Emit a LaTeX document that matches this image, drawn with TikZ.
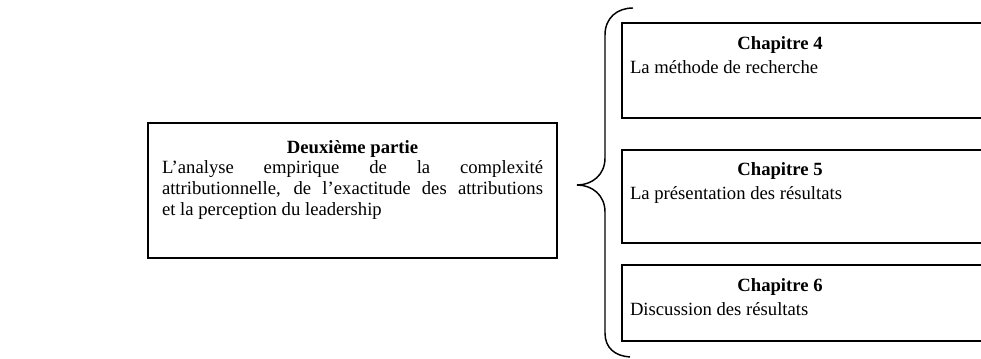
\documentclass[tikz,border=0pt]{standalone}
\usepackage{fontspec}
\setmainfont{Liberation Serif}
\usetikzlibrary{positioning}
\tikzstyle{partbox} = [rectangle, draw, line width=1.3pt, anchor=north west, inner xsep=10.5pt, inner ysep=13pt, outer sep=0pt, font=\fontsize{14}{15.5}\selectfont]
\tikzstyle{chapbox} = [rectangle, draw, line width=1.3pt, inner xsep=6pt, inner ysep=10pt, outer sep=0pt, font=\fontsize{14}{18}\selectfont]
\tikzstyle{brace} = [line width=1.1pt]
\newcommand{\chaptext}[3]{\parbox[t][#1][t]{225pt}{{\centering\textbf{#2}\par}#3}\hspace*{60pt}}

\begin{document}
\begin{tikzpicture}[x=0.75pt, y=-0.75pt]
\useasboundingbox (0,0) rectangle (981,359);
\clip (0,0) rectangle (981,359);
% Part box
\node (part) [partbox] at (148,123) {\parbox[t][75pt][t]{285.75pt}{{\centering\textbf{Deuxième partie}\par}L’analyse empirique de la complexité\linebreak attributionnelle, de l’exactitude des attributions\linebreak et la perception du leadership}};

% Chapters
\node (ch4) [chapbox, anchor=north west] at (622,23) {\chaptext{51pt}{Chapitre 4}{La méthode de recherche}};
\node (ch5) [chapbox, below=24pt of ch4] {\chaptext{50pt}{Chapitre 5}{La présentation des résultats}};
\node (ch6) [chapbox, below=16.5pt of ch5] {\chaptext{37pt}{Chapitre 6}{Discussion des résultats}};

% Brace
\draw[brace] (633,8) .. controls (617,8) and (605,18) .. (605,35) -- (605,158)
  .. controls (605,175) and (592,185) .. (577,185)
  .. controls (592,185) and (605,195) .. (605,212) -- (605,333)
  .. controls (605,348) and (615,356) .. (630,357);
\end{tikzpicture}
\end{document}
